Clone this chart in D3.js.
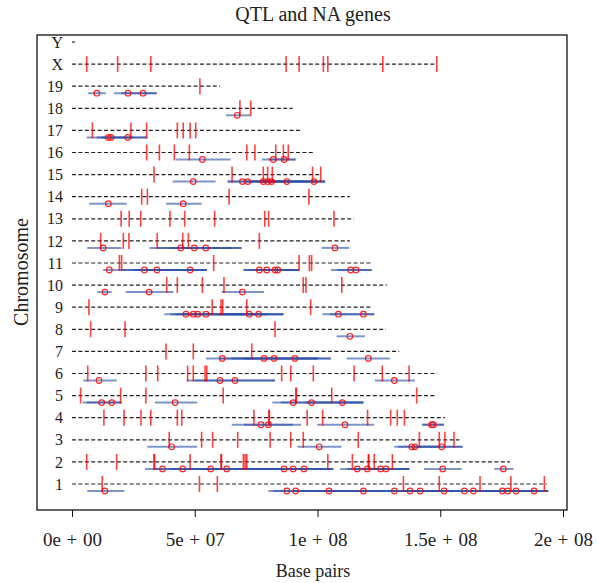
<!DOCTYPE html>
<html>
<head>
<meta charset="utf-8">
<script src="https://cdn.jsdelivr.net/npm/d3@7"></script>
<style>
  body { margin: 0; background: #fff; }
  svg text { font-family: "Liberation Serif", "DejaVu Serif", serif; fill: #222; }
</style>
</head>
<body>
<svg id="chart" width="598" height="583"></svg>
<script>
// chromosomes, bottom to top
const chromosomes = ["1","2","3","4","5","6","7","8","9","10","11","12","13","14","15","16","17","18","19","X","Y"];

// chromosome length (Mb)
const chromLengthMb = [193.4, 178.4, 157.8, 151.9, 148.3, 148.8, 133.3, 127.9, 122.5, 128.2,
                       122.1, 113.2, 114.9, 113.2, 101.7, 98.3, 92.9, 89.9, 60.3, 148.6, 1.2];

// NA gene positions (Mb), one list per chromosome
const geneMb = [
  [12.3, 51.9, 59.2, 135.0, 149.6, 166.2, 178.8, 192.4],
  [6.0, 18.2, 33.4, 33.6, 48.1, 60.7, 60.9, 69.8, 70.5, 71.2, 104.2, 114.2, 120.7, 120.9, 123.1, 130.5],
  [39.6, 52.8, 57.3, 67.5, 80.7, 89.1, 94.2, 116.6, 141.5, 149.6, 151.9, 155.6],
  [13.0, 21.2, 28.1, 32.1, 42.9, 44.7, 74.1, 80.2, 80.4, 95.8, 102.1, 120.4, 129.8, 132.5, 135.4],
  [3.5, 19.8, 30.1, 61.6, 91.2, 91.4, 105.8, 140.4],
  [6.4, 30.1, 34.9, 47.1, 49.4, 54.2, 54.9, 85.4, 89.1, 98.3, 114.9, 126.4, 137.3],
  [38.3, 49.4, 73.2],
  [7.6, 21.6, 82.7],
  [6.9, 57.1, 60.7, 61.4, 71.2, 97.2],
  [38.6, 42.9, 53.1, 61.9, 94.2, 95.3, 109.9],
  [19.3, 20.2, 57.7, 92.5, 96.7, 97.6],
  [11.7, 20.9, 23.2, 34.7, 45.1, 47.4, 76.3],
  [20.0, 23.3, 28.0, 39.9, 45.9, 58.1, 78.5, 80.1, 106.7],
  [28.4, 30.7, 64.0, 96.5],
  [33.4, 65.2, 77.9, 79.7, 81.6, 98.0, 101.3],
  [30.4, 35.6, 41.7, 47.8, 71.2, 74.5, 83.0, 86.1, 88.1],
  [8.3, 24.0, 30.4, 42.9, 45.3, 48.1, 50.4],
  [68.4, 72.8],
  [52.1],
  [6.0, 18.6, 32.1, 87.2, 92.5, 102.4, 104.2, 126.6, 148.6],
  []
];

// QTL intervals: [chromosome, start Mb, end Mb, peak Mb]
const qtls = [
  ["1", 6.2, 21.3, 13.4], ["1", 80.0, 120, 87.5], ["1", 82, 110, 91.1], ["1", 90, 125, 104.7],
  ["1", 100, 140, 118.7], ["1", 115, 150, 131.3], ["1", 125, 150, 137.7], ["1", 130, 155, 141.8],
  ["1", 138, 165, 151.6], ["1", 148, 172, 159.8], ["1", 150, 178, 163.5], ["1", 165, 194, 175.3],
  ["1", 168, 190, 177.5], ["1", 170, 194, 180.9], ["1", 180, 194, 188.2],
  ["2", 29.7, 70, 36.9], ["2", 33, 75, 45.1], ["2", 40, 80, 56.5], ["2", 50, 95, 63.0],
  ["2", 70, 106.4, 86.4], ["2", 75, 106.4, 90.1], ["2", 80, 106.4, 94.5],
  ["2", 109.2, 130, 116.2], ["2", 112, 137.4, 120.3], ["2", 115, 137.4, 125.7], ["2", 118, 137.4, 127.9],
  ["2", 143.4, 158.7, 151.0], ["2", 172.0, 179.8, 175.7],
  ["3", 30.7, 51.0, 40.6], ["3", 91.9, 109.8, 100.7], ["3", 131.3, 159.1, 138.4],
  ["3", 133, 150, 139.7], ["3", 140, 159.1, 150.6],
  ["4", 65.1, 93.3, 77.0], ["4", 70, 90, 80.0], ["4", 99.9, 123, 111.2],
  ["4", 142.4, 151.5, 146.5], ["4", 143, 151.5, 147.2],
  ["5", 4.4, 20.2, 12.1], ["5", 6, 20.2, 16.2], ["5", 33.8, 51.0, 42.0],
  ["5", 81.6, 118.7, 90.1], ["5", 85, 118.7, 97.6], ["5", 95, 118.7, 110.1],
  ["6", 4.6, 18.2, 11.0], ["6", 46.7, 82.7, 60.3], ["6", 50, 82.7, 66.4], ["6", 123.4, 139.7, 131.3],
  ["7", 54.6, 105.4, 61.2], ["7", 60, 100, 78.2], ["7", 65, 100, 82.3], ["7", 70, 105.4, 90.8],
  ["7", 111.9, 129.5, 120.7],
  ["8", 107.8, 119.3, 113.2],
  ["9", 37.6, 86.1, 46.4], ["9", 40, 70, 49.4], ["9", 42, 75, 51.2], ["9", 45, 80, 54.6],
  ["9", 60, 86.1, 72.2], ["9", 65, 86.1, 76.0], ["9", 102, 123.1, 108.5], ["9", 105, 123.1, 118.7],
  ["10", 10.3, 16.2, 13.4], ["10", 21.9, 41.3, 31.4], ["10", 61.0, 78.2, 69.4],
  ["11", 12.7, 54.9, 15.2], ["11", 20, 50, 29.5], ["11", 25, 54.9, 34.6], ["11", 30, 54.9, 48.1],
  ["11", 69.8, 92.5, 76.3], ["11", 70, 90, 79.3], ["11", 72, 92.5, 82.7], ["11", 75, 92.5, 83.8],
  ["11", 105.5, 122.1, 113.5], ["11", 108, 122.1, 115.7],
  ["12", 6.2, 20.2, 12.7], ["12", 31.5, 69.1, 44.3], ["12", 35, 65, 49.8], ["12", 40, 69.1, 54.5],
  ["12", 101.7, 113, 107.1],
  ["14", 7.0, 22.3, 14.8], ["14", 38.3, 52.8, 45.3],
  ["15", 41.0, 58.5, 49.4], ["15", 63.4, 90, 69.4], ["15", 63.4, 85, 71.6], ["15", 70, 103.1, 77.9],
  ["15", 72, 100, 79.7], ["15", 75, 95, 81.3], ["15", 78, 103.1, 87.5], ["15", 90, 103.1, 98.6],
  ["16", 42.4, 64.6, 53.1], ["16", 77.3, 91.1, 82.0], ["16", 80, 91.1, 86.4],
  ["17", 6.0, 30.7, 14.8], ["17", 10, 25, 15.9], ["17", 12, 30.7, 22.7],
  ["18", 62.6, 72.5, 67.3],
  ["19", 6.6, 13.8, 10.1], ["19", 17.1, 34.5, 22.8], ["19", 20, 34.5, 28.9]
];

const xTicks = [0, 5e7, 1e8, 1.5e8, 2e8];
const xTickLabels = ["0e + 00", "5e + 07", "1e + 08", "1.5e + 08", "2e + 08"];

const svg = d3.select("#chart");
const frame = {left: 37, right: 567, top: 35, bottom: 510};

const x = d3.scaleLinear().domain([0, 2e8]).range([72, 563]);
const y = d3.scalePoint().domain(chromosomes).range([484, 42]);
const MB = 1e6;

// title and axis titles
svg.append("text").attr("x", 313).attr("y", 21).attr("text-anchor", "middle")
  .style("font-size", "20px").text("QTL and NA genes");
svg.append("text").attr("x", 313).attr("y", 577).attr("text-anchor", "middle")
  .style("font-size", "18px").text("Base pairs");
svg.append("text").attr("transform", "translate(28,272) rotate(-90)").attr("text-anchor", "middle")
  .style("font-size", "20px").text("Chromosome");

// box
svg.append("rect")
  .attr("x", frame.left).attr("y", frame.top)
  .attr("width", frame.right - frame.left).attr("height", frame.bottom - frame.top)
  .attr("fill", "none").attr("stroke", "#111").attr("stroke-width", 1.3);

// x axis
const xAxis = d3.axisBottom(x).tickValues(xTicks).tickSize(7)
  .tickFormat((d, i) => xTickLabels[i]);
const gx = svg.append("g").attr("transform", `translate(0,${frame.bottom})`).call(xAxis);
gx.select(".domain").remove();
gx.selectAll("line").attr("stroke", "#111");
gx.selectAll("text").attr("y", 36).attr("dy", null).style("font-size", "19px")
  .style("word-spacing", "1px")
  .style("font-family", "Liberation Serif, serif").attr("fill", "#222");

// chromosome labels
svg.append("g").selectAll("text").data(chromosomes).join("text")
  .attr("x", 63).attr("y", d => y(d)).attr("dy", "0.35em").attr("text-anchor", "end")
  .style("font-size", "16px").text(d => d);

// dashed chromosome lines
svg.append("g").selectAll("line").data(chromosomes).join("line")
  .attr("x1", x(0)).attr("x2", (d, i) => x(chromLengthMb[i] * MB))
  .attr("y1", d => y(d)).attr("y2", d => y(d))
  .attr("stroke", "#222").attr("stroke-width", 1.2).attr("stroke-dasharray", "4,2.4");

// QTL intervals
svg.append("g").selectAll("line").data(qtls).join("line")
  .attr("x1", d => x(d[1] * MB)).attr("x2", d => x(d[2] * MB))
  .attr("y1", d => y(d[0]) + 7).attr("y2", d => y(d[0]) + 7)
  .attr("stroke", "#2a4ea6").attr("stroke-opacity", 0.6).attr("stroke-width", 2);

// NA genes
const genes = [];
chromosomes.forEach((c, i) => geneMb[i].forEach(p => genes.push([c, p])));
svg.append("g").selectAll("line").data(genes).join("line")
  .attr("x1", d => x(d[1] * MB)).attr("x2", d => x(d[1] * MB))
  .attr("y1", d => y(d[0]) - 8).attr("y2", d => y(d[0]) + 8)
  .attr("stroke", "#f00").attr("stroke-opacity", 0.75).attr("stroke-width", 1.6);

// QTL peaks
svg.append("g").selectAll("circle").data(qtls).join("circle")
  .attr("cx", d => x(d[3] * MB)).attr("cy", d => y(d[0]) + 7).attr("r", 2.8)
  .attr("fill", "none").attr("stroke", "#f00").attr("stroke-opacity", 0.85).attr("stroke-width", 1.2);
</script>
</body>
</html>
